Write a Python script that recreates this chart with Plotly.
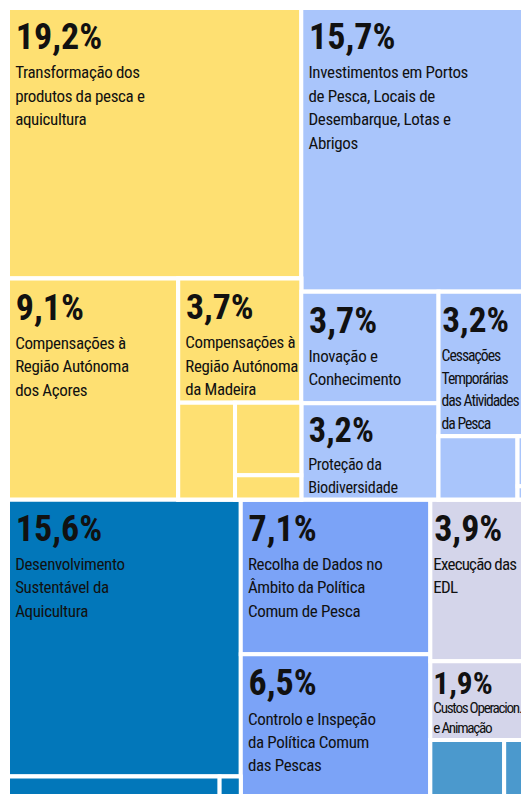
import plotly.graph_objects as go

# ---- leaf data (values in %) ----
leaf_ids = ["transf", "acores", "madeira", "ys1", "ys2", "ys3",
            "invest", "inov", "prot", "cess", "lbt1", "lbt2", "lbt3",
            "desenv", "dbs1", "dbs2", "recolha", "controlo",
            "edl", "custos", "sb1", "sb2"]
leaf_parents = ["yellow", "yl1", "yl2", "yl3", "yl4", "yl4",
                "lblue", "lbl_l", "lbl_l", "lbl_r", "lbr2", "lbr3", "lbr3",
                "dblue", "db1", "db1", "mblue", "mblue",
                "rcol", "rcol", "steel", "steel"]
leaf_values = [19.2, 9.1, 3.7, 1.33, 1.16, 0.39,
               15.7, 3.7, 3.2, 3.2, 1.21, 0.15, 0.04,
               15.6, 1.0, 0.1, 7.1, 6.5,
               3.9, 1.9, 1.0, 0.35]
leaf_pct = ["19,2%", "9,1%", "3,7%", "", "", "",
            "15,7%", "3,7%", "3,2%", "3,2%", "", "", "",
            "15,6%", "", "", "7,1%", "6,5%",
            "3,9%", "1,9%", "", ""]
leaf_lines = [
    ["Transformação dos", "produtos da pesca e", "aquicultura"],
    ["Compensações à", "Região Autónoma", "dos Açores"],
    ["Compensações à", "Região Autónoma", "da Madeira"],
    [], [], [],
    ["Investimentos em Portos", "de Pesca, Locais de", "Desembarque, Lotas e", "Abrigos"],
    ["Inovação e", "Conhecimento"],
    ["Proteção da", "Biodiversidade"],
    ["Cessações", "Temporárias", "das Atividades", "da Pesca"],
    [], [], [],
    ["Desenvolvimento", "Sustentável da", "Aquicultura"],
    [], [],
    ["Recolha de Dados no", "Âmbito da Política", "Comum de Pesca"],
    ["Controlo e Inspeção", "da Política Comum", "das Pescas"],
    ["Execução das", "EDL"],
    ["Custos Operacion.", "e Animação"],
    [], []]
leaf_colors = ["#FEE072"] * 6 + ["#A9C5FB"] * 7 + ["#0277BA"] * 3 + \
              ["#7BA3F7"] * 2 + ["#D4D5EA"] * 2 + ["#4B99CD"] * 2

# ---- grouping nodes (structure of the tiling) ----
group_ids = ["root", "top", "bottom", "yellow", "yl1", "yl2", "yl3", "yl4",
             "lblue", "lb1", "lbl_l", "lbl_r", "lbr2", "lbr3",
             "dblue", "db1", "mblue", "rcol", "steel"]
group_parents = ["", "root", "root", "top", "yellow", "yl1", "yl2", "yl3",
                 "top", "lblue", "lb1", "lb1", "lbl_r", "lbr2",
                 "bottom", "dblue", "bottom", "bottom", "rcol"]

NB = "\u00a0"
# per-cell text fitting: (label size, letter-spacing, leading space, top spacer, pct size)
fit = {"cess": ("16px", "-1.0px", False, True, "36px"),
       "edl": ("17px", "-0.8px", False, True, "36px"),
       "custos": ("16px", "-1.35px", False, False, "33px")}


def build_text(lid, p, lines):
    size, ls, lead, spacer, psize = fit.get(lid, ("17px", "-0.35px", True, True, "36px"))
    pre = NB if lead else ""
    if spacer:
        head = "<span style='font-size:47px;letter-spacing:" + ("-6px" if lead else "-10px") + "'>" + NB + "</span>"
        t = head + "<span style='font-size:" + psize + ";baseline-shift:6px'><b>" + p + "</b></span>"
    else:
        t = "<span style='font-size:" + psize + "'><b>" + p + "</b></span>"
    for ln in lines:
        t += "<br>" + pre + "<span style='font-size:" + size + ";letter-spacing:" + ls + "'>" + ln + "</span>"
    return t


texts = []
sizes = []
for lid, p, lines in zip(leaf_ids, leaf_pct, leaf_lines):
    texts.append(build_text(lid, p, lines) if p else "")
    sizes.append(16 if lid == "custos" else 18)

ids = leaf_ids + group_ids
parents = leaf_parents + group_parents
values = leaf_values + [0] * len(group_ids)
texts += [""] * len(group_ids)
sizes += [18] * len(group_ids)
colors = leaf_colors + ["#FFFFFF"] * len(group_ids)

fig = go.Figure(go.Treemap(
    ids=ids,
    labels=ids,
    parents=parents,
    values=values,
    branchvalues="remainder",
    sort=False,
    text=texts,
    textinfo="text",
    textposition="top left",
    textfont=dict(family="Roboto Condensed, Liberation Sans Narrow, DejaVu Sans Condensed, sans-serif",
                  size=sizes, color="#111111"),
    marker=dict(colors=colors, line=dict(color="white", width=4),
                pad=dict(t=0, l=0, r=0, b=0)),
    tiling=dict(packing="dice-slice", pad=0),
    pathbar=dict(visible=False),
    hoverinfo="skip",
))

fig.update_layout(
    width=522, height=788,
    margin=dict(l=0, t=0, r=0, b=0),
    paper_bgcolor="white",
)

fig.write_html("out.html")
